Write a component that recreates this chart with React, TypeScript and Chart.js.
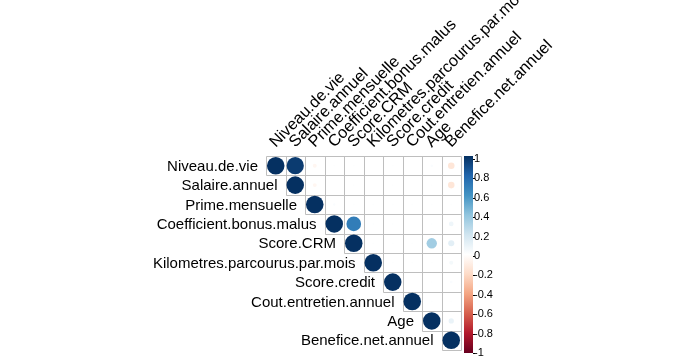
import React, { useEffect, useRef } from "react";
import { Chart, registerables } from "chart.js";

Chart.register(...registerables);

const variables = [
  "Niveau.de.vie",
  "Salaire.annuel",
  "Prime.mensuelle",
  "Coefficient.bonus.malus",
  "Score.CRM",
  "Kilometres.parcourus.par.mois",
  "Score.credit",
  "Cout.entretien.annuel",
  "Age",
  "Benefice.net.annuel",
];

// upper triangle rows: row i holds correlations with columns i..9
const row0 = [1, 0.96, -0.05, 0.01, 0.01, 0.0, 0.01, 0.0, 0.02, -0.14];
const row1 = [1, -0.05, 0.0, 0.01, 0.0, 0.01, 0.0, 0.01, -0.14];
const row2 = [1, 0.02, 0.01, 0.01, 0.01, 0.01, 0.01, 0.01];
const row3 = [1, 0.7, 0.01, 0.01, 0.0, 0.01, 0.07];
const row4 = [1, 0.01, 0.01, 0.01, 0.35, 0.12];
const row5 = [1, 0.01, 0.01, 0.01, 0.05];
const row6 = [1, 0.0, 0.01, 0.02];
const row7 = [1, 0.01, 0.01];
const row8 = [1, 0.09];
const row9 = [1];
const corrRows = [row0, row1, row2, row3, row4, row5, row6, row7, row8, row9];

const colorbarTicks = ["1", "0.8", "0.6", "0.4", "0.2", "0", "-0.2", "-0.4", "-0.6", "-0.8", "-1"];

const palette = [
  "#67001F", "#B2182B", "#D6604D", "#F4A582", "#FDDBC7", "#FFFFFF",
  "#D1E5F0", "#92C5DE", "#4393C3", "#2166AC", "#053061",
];

function hexToRgb(h: string) {
  return [parseInt(h.slice(1, 3), 16), parseInt(h.slice(3, 5), 16), parseInt(h.slice(5, 7), 16)];
}

function colorFor(v: number) {
  const t = ((Math.max(-1, Math.min(1, v)) + 1) / 2) * (palette.length - 1);
  const i = Math.min(palette.length - 2, Math.floor(t));
  const f = t - i;
  const a = hexToRgb(palette[i]);
  const b = hexToRgb(palette[i + 1]);
  const c = a.map((x, k) => Math.round(x + (b[k] - x) * f));
  return `rgb(${c[0]},${c[1]},${c[2]})`;
}

const FONT = "Liberation Sans, Arial, sans-serif";

const decorPlugin = {
  id: "corrDecor",
  beforeDatasetsDraw(chart: any) {
    const { ctx } = chart;
    const xs = chart.scales.x;
    const ys = chart.scales.y;
    const n = variables.length;
    const X = (j: number) => Math.round(xs.getPixelForValue(j - 0.5)) + 0.5;
    const Y = (i: number) => Math.round(ys.getPixelForValue(i - 0.5)) + 0.5;
    ctx.save();
    ctx.strokeStyle = "#bebebe";
    ctx.lineWidth = 1;
    ctx.beginPath();
    for (let i = 0; i <= n; i++) {
      const c0 = Math.max(i - 1, 0);
      ctx.moveTo(X(c0), Y(i));
      ctx.lineTo(X(n), Y(i));
    }
    for (let j = 0; j <= n; j++) {
      const r1 = Math.min(j, n - 1) + 1;
      ctx.moveTo(X(j), Y(0));
      ctx.lineTo(X(j), Y(r1));
    }
    ctx.stroke();
    ctx.restore();
  },
  afterDraw(chart: any) {
    const { ctx, chartArea } = chart;
    const xs = chart.scales.x;
    const ys = chart.scales.y;
    const cw = Math.abs(xs.getPixelForValue(1) - xs.getPixelForValue(0));
    ctx.save();
    ctx.fillStyle = "#000";
    ctx.font = `15px ${FONT}`;
    // row labels
    ctx.textAlign = "right";
    ctx.textBaseline = "middle";
    for (let i = 0; i < variables.length; i++) {
      const x = xs.getPixelForValue(i) - cw / 2 - 8;
      const y = ys.getPixelForValue(i) + 1;
      ctx.fillText(variables[i], x, y);
    }
    // column labels
    ctx.font = `16.3px ${FONT}`;
    ctx.textAlign = "left";
    ctx.textBaseline = "alphabetic";
    for (let j = 0; j < variables.length; j++) {
      const x = xs.getPixelForValue(j);
      const y = chartArea.top - 8;
      ctx.save();
      ctx.translate(x, y);
      ctx.rotate(-Math.PI / 4);
      ctx.fillText(variables[j], 0, 0);
      ctx.restore();
    }
    // colour bar
    const bx = chartArea.right + 3;
    const bw = 9;
    const top = chartArea.top;
    const bottom = chartArea.bottom + 3;
    const grad = ctx.createLinearGradient(0, bottom, 0, top);
    palette.forEach((c, k) => grad.addColorStop(k / (palette.length - 1), c));
    ctx.fillStyle = grad;
    ctx.fillRect(bx, top, bw, bottom - top);
    ctx.font = `11px ${FONT}`;
    ctx.fillStyle = "#000";
    ctx.strokeStyle = "#000";
    ctx.textAlign = "left";
    ctx.textBaseline = "middle";
    const n = colorbarTicks.length;
    for (let k = 0; k < n; k++) {
      const y = top + 3 + (k * (bottom - top - 3)) / (n - 1);
      ctx.beginPath();
      ctx.moveTo(bx + bw, Math.round(y) + 0.5);
      ctx.lineTo(bx + bw + 2, Math.round(y) + 0.5);
      ctx.stroke();
      ctx.fillText(colorbarTicks[k], bx + bw + 1, y);
    }
    ctx.restore();
  },
};

export default function App() {
  const ref = useRef<HTMLCanvasElement>(null);
  useEffect(() => {
    if (!ref.current) return;
    const points: any[] = [];
    corrRows.forEach((row, i) => {
      row.forEach((v, k) => {
        points.push({ x: i + k, y: i, v });
      });
    });
    const chart = new Chart(ref.current, {
      type: "scatter",
      data: {
        datasets: [
          {
            data: points,
            pointRadius: (c: any) => {
              const s = c.chart.scales.x;
              const cell = Math.abs(s.getPixelForValue(1) - s.getPixelForValue(0));
              return 0.45 * Math.sqrt(Math.abs(c.raw.v)) * cell;
            },
            pointBackgroundColor: (c: any) => colorFor(c.raw.v),
            pointBorderColor: (c: any) => colorFor(c.raw.v),
            pointBorderWidth: 0,
            pointHoverRadius: 0,
          } as any,
        ],
      },
      options: {
        animation: false,
        responsive: false,
        layout: { padding: { left: 266, right: 221, top: 156, bottom: 10 } },
        plugins: { legend: { display: false }, tooltip: { enabled: false } },
        scales: {
          x: { type: "linear", min: -0.5, max: 9.5, display: false },
          y: { type: "linear", min: -0.5, max: 9.5, reverse: true, display: false },
        },
      },
      plugins: [decorPlugin],
    });
    return () => chart.destroy();
  }, []);
  return (
    <div style={{ position: "fixed", left: 0, top: 0, width: 682, height: 360, background: "#fff" }}>
      <canvas ref={ref} width={682} height={360} />
    </div>
  );
}
